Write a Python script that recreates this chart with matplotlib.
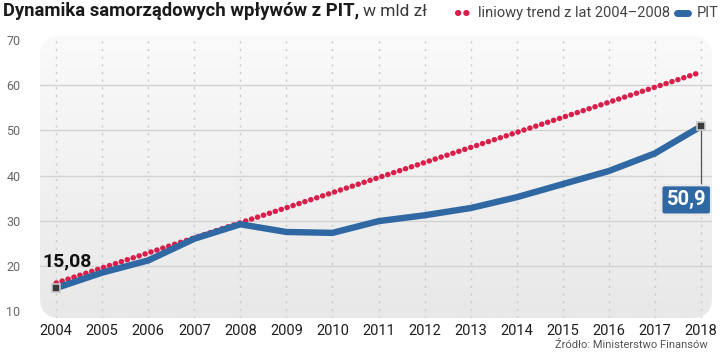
import matplotlib
matplotlib.use("Agg")
import matplotlib.pyplot as plt
import numpy as np
from matplotlib.patches import FancyBboxPatch
from matplotlib.lines import Line2D
from matplotlib.colors import LinearSegmentedColormap

years = [2004, 2005, 2006, 2007, 2008, 2009, 2010, 2011, 2012, 2013, 2014, 2015, 2016, 2017, 2018]
pit = [15.08, 18.5, 21.2, 26.0, 29.2, 27.5, 27.3, 29.9, 31.2, 32.8, 35.2, 38.1, 41.0, 44.9, 50.9]
trend_years = [2004, 2018]
trend = [16.2, 62.9]
yticks = [10, 20, 30, 40, 50, 60, 70]
xticklabels = [str(y) for y in years]

RED = "#d81f4b"
BLUE = "#2f68a2"
FONT = ["Roboto", "DejaVu Sans"]

fig = plt.figure(figsize=(7.2, 3.53), dpi=100)
ax = fig.add_axes([40/720, 1-318/353, 672/720, 282/353])
ax.set_xlim(2003.65, 2018.24)
ax.set_ylim(8.45, 70.9)
for s in ax.spines.values():
    s.set_visible(False)
ax.patch.set_visible(False)

# rounded gradient background
bg = FancyBboxPatch((0, 0), 1, 1, boxstyle="round,pad=0,rounding_size=0.03",
                    transform=ax.transAxes, facecolor="none", edgecolor="none",
                    mutation_aspect=672/282)
ax.add_patch(bg)
grad = np.linspace(0, 1, 256).reshape(-1, 1)
cmap = LinearSegmentedColormap.from_list("g", ["#e8e8e8", "#fafafa"])
im = ax.imshow(grad, extent=[0, 1, 0, 1], transform=ax.transAxes, cmap=cmap,
               origin="lower", aspect="auto", zorder=0)
im.set_clip_path(bg)

for y in yticks[1:-1]:
    ax.axhline(y, color="#d2d2d2", lw=1.0, zorder=1)
for x in years:
    ax.axvline(x, color="#c9c9c9", lw=1.0, ls=(0, (1.5, 4)), zorder=1)

ax.plot(trend_years, trend, color=RED, lw=3.9, ls=(0, (0.05, 1.1)),
        dash_capstyle="round", zorder=3)
ax.plot(years, pit, color=BLUE, lw=4.6, solid_capstyle="round",
        solid_joinstyle="round", zorder=4)

for x, y in [(years[0], pit[0]), (years[-1], pit[-1])]:
    ax.plot([x], [y], marker="s", ms=5.5, mfc="#3a3a3a", mec="#c8c8c8",
            mew=1.2, zorder=6)

ax.text(years[0] - 0.3, pit[0] + 5.8, "15,08", fontsize=14, fontweight="bold",
        family=FONT, color="#111111", ha="left", va="center", zorder=7)

# leader line and box for last value
ax.plot([years[-1], years[-1]], [pit[-1], 37.2], color="#555555", lw=0.9, zorder=5)
ax.text(2017.68, 34.6, "50,9", fontsize=14.5, fontweight="bold",
        family=FONT, color="white", ha="center", va="center", zorder=7,
        bbox=dict(boxstyle="round,pad=0.25,rounding_size=0.15", fc=BLUE,
                  ec="#e8e8e8", lw=1.5))

ax.set_yticks(yticks)
ax.set_yticklabels([str(v) for v in yticks], fontsize=9, color="#666666", family=FONT)
ax.set_xticks(years)
ax.set_xticklabels(xticklabels, fontsize=10.5, color="#1e1e1e", family=FONT)
ax.tick_params(axis="y", length=0, pad=14)
ax.tick_params(axis="x", length=0, pad=4)
ax.grid(False)

# title
t1 = fig.text(3/720, 1-11/353, "Dynamika samorządowych wpływów z PIT,", fontsize=13.3,
              fontweight="bold", family=FONT, color="#1a1a1a", ha="left", va="center")
fig.canvas.draw()
bb = t1.get_window_extent()
fig.text(bb.x1/720 + 4/720, 1-11/353, "w mld zł", fontsize=12.5, family=FONT,
         color="#3a3a3a", ha="left", va="center", fontweight="normal")

# legend
fig.lines.append(Line2D([458/720, 468/720], [1-13/353]*2, transform=fig.transFigure,
                        color=RED, lw=4.4, ls=(0, (0.05, 1.3)), dash_capstyle="round"))
fig.text(478/720, 1-13/353, "liniowy trend z lat 2004–2008", fontsize=10.5, family=FONT,
         color="#444444", ha="left", va="center")
fig.lines.append(Line2D([677/720, 688/720], [1-13/353]*2, transform=fig.transFigure,
                        color=BLUE, lw=5, solid_capstyle="round"))
fig.text(697/720, 1-13/353, "PIT", fontsize=10.5, family=FONT,
         color="#444444", ha="left", va="center")

fig.text(708/720, 1-345/353, "Źródło: Ministerstwo Finansów", fontsize=8, family=FONT,
         color="#555555", ha="right", va="center")

fig.savefig("out.png", dpi=100)
